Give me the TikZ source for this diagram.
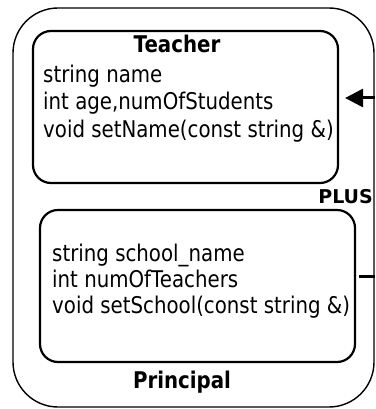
\documentclass[tikz,border=0pt]{standalone}
\usepackage{fontspec}
\setmainfont{DejaVu Sans}[FakeStretch=0.86]
\newfontfamily\tagfont{DejaVu Sans}
\usepackage{tikz}
\usetikzlibrary{arrows.meta,positioning}

\begin{document}
\begin{tikzpicture}[x=1pt, y=-1pt,
  groupbox/.style={draw, line width=1.4pt, rounded corners=45pt,
               minimum width=361pt, minimum height=399pt},
  classbox/.style={draw, line width=2.2pt, rounded corners=18pt,
               minimum width=305pt, minimum height=152pt},
  member/.style={anchor=base west, inner sep=0pt,
               font=\fontsize{23}{27}\selectfont},
  title/.style={anchor=base, inner sep=0pt,
               font=\fontsize{23}{27}\selectfont\bfseries},
  arrow/.style={-{Triangle[length=18pt, width=18pt]}, line width=3pt},
  link/.style={line width=3pt},
]
  \useasboundingbox (0,0) rectangle (375,409);

  % outer group and the two classes in it
  \node[groupbox] (group) at (193.5, 207.5) {};
  \node[classbox] (teacher) at (185.5, 107) {};
  \node[classbox, minimum width=315pt] (principal) at (197.5, 286) {};

  % Teacher members
  \node[title] (tname) at (177, 53) {Teacher};
  \node[member] (t1) at (43, 83) {string name};
  \node[member] (t2) at (43, 110) {int age,numOfStudents};
  \node[member] (t3) at (43, 137) {void setName(const string \&)};

  % Principal members
  \node[member] (p1) at (52, 261) {string school\_name};
  \node[member] (p2) at (52, 287) {int numOfTeachers};
  \node[member] (p3) at (52, 313) {void setSchool(const string \&)};
  \node[title] (pname) at (182, 388) {Principal};

  \node[anchor=base east, inner sep=0pt,
        font=\tagfont\fontsize{19}{22}\selectfont\bfseries] (plus) at (373, 203) {PLUS};

  % connectors leaving to the right
  \coordinate (teacherin) at (375, 98);
  \coordinate (principalout) at (375, 276);
  \draw[arrow, shorten >=6pt] (teacherin) -- (teacher.east |- teacherin);
  \draw[link, shorten <=3pt] (principal.east |- principalout) -- (principalout);
\end{tikzpicture}
\end{document}
